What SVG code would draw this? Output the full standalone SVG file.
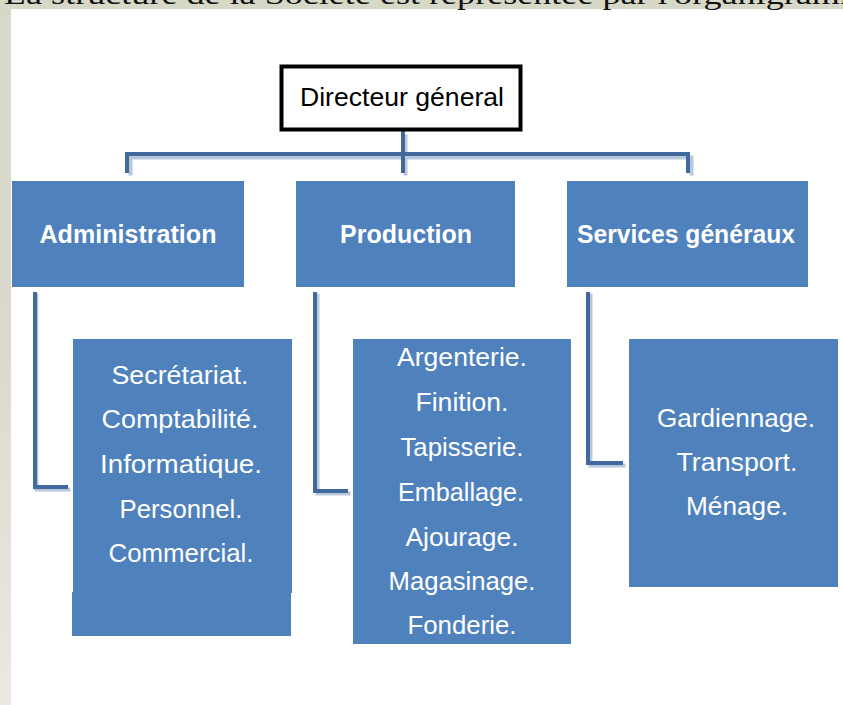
<svg xmlns="http://www.w3.org/2000/svg" width="843" height="705" viewBox="0 0 843 705">
  <defs>
    <linearGradient id="bg" x1="0" y1="0" x2="0" y2="1">
      <stop offset="0" stop-color="#d6d8c8"/>
      <stop offset="0.5" stop-color="#dcd9cf"/>
      <stop offset="1" stop-color="#ece8e2"/>
    </linearGradient>
    <style>
      .head{fill:#ffffff;font-family:"Liberation Sans",Arial,sans-serif;font-weight:bold;font-size:25px;text-anchor:middle}
      .item{fill:#ffffff;font-family:"Liberation Sans",Arial,sans-serif;font-size:25px;text-anchor:middle}
      .box{fill:#4f81bd}
      .conn{fill:none;stroke:#41699d;stroke-width:4;stroke-linejoin:miter}
      .shadow{fill:none;stroke:#b9c7da;stroke-width:4}
    </style>
  </defs>

  <rect x="0" y="0" width="843" height="705" fill="url(#bg)"/>
  <rect x="11" y="9" width="832" height="696" fill="#ffffff"/>
  <text x="4" y="4" font-family="'Liberation Serif','Times New Roman',serif" font-size="28" fill="#111111" textLength="880" lengthAdjust="spacingAndGlyphs">La structure de la Société est représentée par l'organigramme</text>

  <g id="connectors">
    <path class="shadow" d="M404 133 V155 M129 174 V156 H690 V174 M404 156 V174" transform="translate(1.5,1.5)"/>
    <path class="conn" d="M403 131 V154 M127 173 V154 H688 V173 M403 154 V173"/>
    <path class="shadow" d="M35 292 V488 H69 M316 292 V492 H349 M589 292 V464 H624" transform="translate(1.5,1.5)"/>
    <path class="conn" d="M35 292 V487 H68 M315 292 V491 H348 M588 292 V463 H623"/>
  </g>

  <g id="directeur">
    <rect x="281.5" y="66.5" width="239" height="63" fill="#ffffff" stroke="#000000" stroke-width="4"/>
    <text x="402" y="106" font-family="'Liberation Sans',Arial,sans-serif" font-size="25" fill="#000000" text-anchor="middle" textLength="204" lengthAdjust="spacingAndGlyphs">Directeur géneral</text>
  </g>

  <g id="administration">
    <rect class="box" x="12" y="181" width="232" height="106"/>
    <text class="head" x="128" y="243" textLength="177" lengthAdjust="spacingAndGlyphs">Administration</text>
  </g>
  <g id="production">
    <rect class="box" x="296" y="181" width="219" height="106"/>
    <text class="head" x="406" y="243" textLength="132" lengthAdjust="spacingAndGlyphs">Production</text>
  </g>
  <g id="services">
    <rect class="box" x="567" y="181" width="241" height="106"/>
    <text class="head" x="686" y="243" textLength="218" lengthAdjust="spacingAndGlyphs">Services généraux</text>
  </g>

  <g id="admin-items">
    <rect class="box" x="73" y="339" width="219" height="254"/>
    <rect class="box" x="72" y="592" width="219" height="44"/>
    <text class="item" x="180" y="384" textLength="137" lengthAdjust="spacingAndGlyphs">Secrétariat.</text>
    <text class="item" x="180" y="428" textLength="157" lengthAdjust="spacingAndGlyphs">Comptabilité.</text>
    <text class="item" x="181" y="473" textLength="162" lengthAdjust="spacingAndGlyphs">Informatique.</text>
    <text class="item" x="181" y="518" textLength="123" lengthAdjust="spacingAndGlyphs">Personnel.</text>
    <text class="item" x="181" y="562" textLength="145" lengthAdjust="spacingAndGlyphs">Commercial.</text>
  </g>

  <g id="production-items">
    <rect class="box" x="353" y="339" width="218" height="305"/>
    <text class="item" x="462" y="366" textLength="130" lengthAdjust="spacingAndGlyphs">Argenterie.</text>
    <text class="item" x="462" y="411" textLength="93" lengthAdjust="spacingAndGlyphs">Finition.</text>
    <text class="item" x="462" y="456" textLength="123" lengthAdjust="spacingAndGlyphs">Tapisserie.</text>
    <text class="item" x="461" y="501" textLength="126" lengthAdjust="spacingAndGlyphs">Emballage.</text>
    <text class="item" x="462" y="546" textLength="113" lengthAdjust="spacingAndGlyphs">Ajourage.</text>
    <text class="item" x="462" y="590" textLength="147" lengthAdjust="spacingAndGlyphs">Magasinage.</text>
    <text class="item" x="462" y="634" textLength="109" lengthAdjust="spacingAndGlyphs">Fonderie.</text>
  </g>

  <g id="services-items">
    <rect class="box" x="629" y="339" width="209" height="248"/>
    <text class="item" x="736" y="427" textLength="158" lengthAdjust="spacingAndGlyphs">Gardiennage.</text>
    <text class="item" x="737" y="471" textLength="121" lengthAdjust="spacingAndGlyphs">Transport.</text>
    <text class="item" x="737" y="515" textLength="102" lengthAdjust="spacingAndGlyphs">Ménage.</text>
  </g>
</svg>
